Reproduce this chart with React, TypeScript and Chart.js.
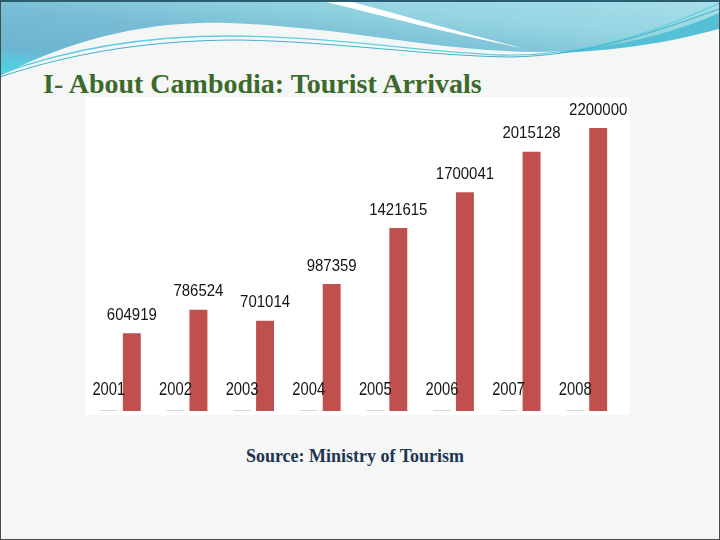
import React, { useEffect, useRef } from "react";
import { Chart, registerables } from "chart.js";

Chart.register(...registerables);

const years = ["2001", "2002", "2003", "2004", "2005", "2006", "2007", "2008"];
const arrivals = [604919, 786524, 701014, 987359, 1421615, 1700041, 2015128, 2200000];
const yearSeries = [8000, 8000, 8000, 8000, 8000, 8000, 8000, 8000];
const yMax = 2440000;

function drawScaled(ctx: any, text: string, x: number, y: number, sx: number) {
  ctx.save();
  ctx.translate(x, y);
  ctx.scale(sx, 1);
  ctx.fillText(text, 0, 0);
  ctx.restore();
}

const labelPlugin = {
  id: "barLabels",
  afterDatasetsDraw(chart: any) {
    const ctx = chart.ctx;
    const yearMeta = chart.getDatasetMeta(0);
    const valMeta = chart.getDatasetMeta(1);
    const base = chart.scales.y.getPixelForValue(0);
    ctx.save();
    ctx.fillStyle = "#141414";
    ctx.textAlign = "center";
    ctx.textBaseline = "middle";
    ctx.font = "17px 'Liberation Sans', Arial, sans-serif";
    valMeta.data.forEach((bar: any, i: number) => {
      drawScaled(ctx, String(arrivals[i]), bar.x, bar.y - 18, 0.88);
    });
    ctx.font = "18px 'Liberation Sans', Arial, sans-serif";
    yearMeta.data.forEach((bar: any, i: number) => {
      drawScaled(ctx, years[i], bar.x, base - 21, 0.82);
    });
    ctx.restore();
  },
};

function BarChart() {
  const ref = useRef<HTMLCanvasElement | null>(null);
  useEffect(() => {
    if (!ref.current) return;
    const chart = new Chart(ref.current, {
      type: "bar",
      data: {
        labels: years,
        datasets: [
          {
            label: "Year",
            data: yearSeries,
            backgroundColor: "#d9d9d9",
            categoryPercentage: 0.69,
            barPercentage: 0.78,
          },
          {
            label: "Tourist Arrivals",
            data: arrivals,
            backgroundColor: "#c0504d",
            categoryPercentage: 0.69,
            barPercentage: 0.78,
          },
        ],
      },
      options: {
        responsive: false,
        animation: false,
        layout: { padding: { left: 2, right: 10, top: 0, bottom: 4 } },
        plugins: { legend: { display: false }, tooltip: { enabled: false } },
        scales: {
          x: { display: false, grid: { display: false } },
          y: { display: false, min: 0, max: yMax, grid: { display: false } },
        },
      },
      plugins: [labelPlugin],
    });
    return () => chart.destroy();
  }, []);
  return <canvas ref={ref} width={545} height={318} style={{ display: "block" }} />;
}

export default function App() {
  return (
    <div
      style={{
        position: "absolute",
        left: 0,
        top: 0,
        width: 720,
        height: 540,
        boxSizing: "border-box",
        border: "1px solid #4a4a4a",
        borderTop: "2px solid #2a5d70",
        background: "#f5f6f6",
        overflow: "hidden",
      }}
    >
      <svg
        width={720}
        height={100}
        style={{ position: "absolute", left: -1, top: -2 }}
        viewBox="0 0 720 100"
      >
        <defs>
          <linearGradient id="band" x1="0" y1="1" x2="1" y2="0">
            <stop offset="0" stopColor="#45dbe6" />
            <stop offset="0.2" stopColor="#6cb4d0" />
            <stop offset="0.45" stopColor="#78bdd5" />
            <stop offset="0.7" stopColor="#94d4e1" />
            <stop offset="1" stopColor="#a8dfea" />
          </linearGradient>
        </defs>
        <path
          d="M0,0 H720 V27 C680,38 620,50 540,52 C470,52 400,40 330,31 C280,26 240,22 200,23 C120,25 50,50 0,76 Z"
          fill="url(#band)"
        />
        <path d="M318,0 L345,0 C405,16 462,33 522,48 C450,34 385,16 318,0 Z" fill="#ffffff" />
        <path d="M560,51 C630,46 680,30 722,12 L722,28 C680,40 630,50 560,53 Z" fill="#55bfd5" />
        <path
          d="M0,74 C70,48 150,36 230,36 C330,36 420,52 500,55 C580,57 650,35 722,2"
          fill="none"
          stroke="#62cde0"
          strokeWidth={1.3}
        />
        <path
          d="M0,77 C80,50 160,40 240,40 C340,42 430,56 510,57 C590,56 660,30 722,8"
          fill="none"
          stroke="#3fb2cc"
          strokeWidth={1}
        />
      </svg>
      <div
        style={{
          position: "absolute",
          left: 42,
          top: 65,
          fontFamily: "'Liberation Serif', 'Times New Roman', serif",
          fontWeight: "bold",
          fontSize: 28,
          color: "#3c6a2b",
          whiteSpace: "nowrap",
          lineHeight: "34px",
        }}
      >
        I- About Cambodia: Tourist Arrivals
      </div>
      <div
        style={{
          position: "absolute",
          left: 84,
          top: 95,
          width: 545,
          height: 318,
          background: "#ffffff",
        }}
      >
        <BarChart />
      </div>
      <div
        style={{
          position: "absolute",
          left: 0,
          width: 708,
          top: 443,
          textAlign: "center",
          fontFamily: "'Liberation Serif', 'Times New Roman', serif",
          fontWeight: "bold",
          fontSize: 18,
          color: "#1d3550",
          lineHeight: "22px",
          whiteSpace: "nowrap",
        }}
      >
        Source: Ministry of Tourism
      </div>
    </div>
  );
}
